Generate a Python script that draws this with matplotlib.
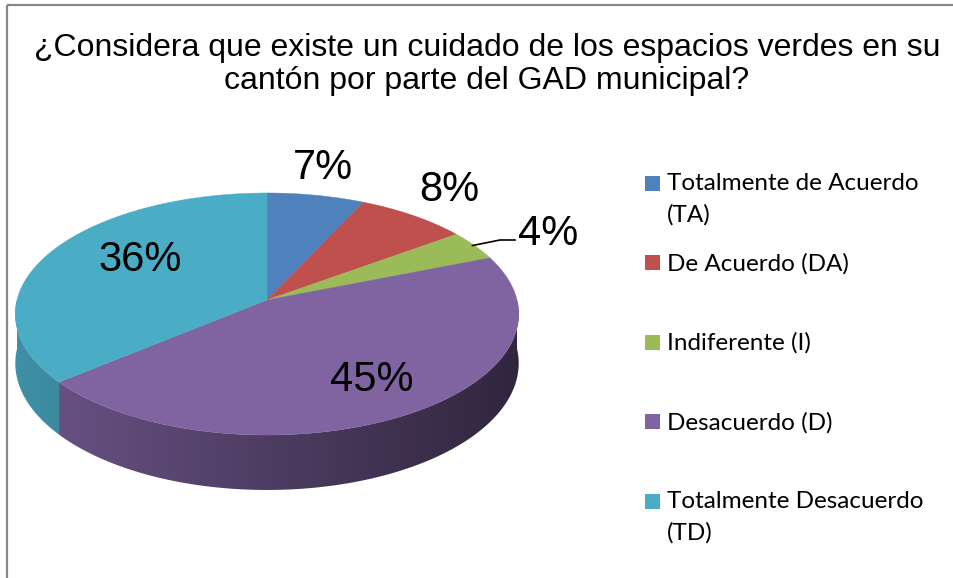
import numpy as np
import matplotlib.pyplot as plt
from matplotlib.colors import to_rgb
from matplotlib.patches import Polygon, Rectangle

# data
categories = ['Totalmente de Acuerdo\n(TA)', 'De Acuerdo (DA)', 'Indiferente (I)',
              'Desacuerdo (D)', 'Totalmente Desacuerdo\n(TD)']
values = [7, 8, 4, 45, 36]
colors = ['#4f81bd', '#c0504d', '#9bbb59', '#8064a2', '#4bacc6']
title_lines = ['¿Considera que existe un cuidado de los espacios verdes en su',
               'cantón por parte del GAD municipal?']

# pie geometry (pixel space)
cx, cy = 267, 300
A, B, k = 250, 119.4, 0.1157
H = 48.6


def proj(r, th):
    x = r * np.cos(th)
    y = r * np.sin(th)
    s = 1 / (1 + k * y)
    return cx + A * x * s, cy - B * y * s, s


fig = plt.figure(figsize=(9.54, 5.78), dpi=100)
ax = fig.add_axes([0, 0, 1, 1])
ax.set_xlim(0, 954)
ax.set_ylim(578, 0)
ax.axis('off')

ax.add_patch(Rectangle((7, 5), 980, 600, fill=False, edgecolor='#888888', lw=1.6))

fracs = np.array(values) / sum(values)
starts = np.pi / 2 - 2 * np.pi * np.concatenate([[0], np.cumsum(fracs)[:-1]])
ends = starts - 2 * np.pi * fracs

# horizontal shading ramp for the walls
xs_grad = np.linspace(0, 954, 955)
shade = np.clip(0.84 - 0.46 * (xs_grad - 15) / 502, 0.3, 1)

# side walls (front half only)
for st, en, c in zip(starts, ends, colors):
    lo, hi = max(en, -np.pi), min(st, 0)
    if lo >= hi:
        lo, hi = max(en + 2 * np.pi, -np.pi), min(st + 2 * np.pi, 0)
        if lo >= hi:
            continue
    ths = np.linspace(hi, lo, 120)
    tx, ty, ts = proj(1, ths)
    pts = list(zip(tx, ty)) + list(zip(tx[::-1], (ty + H * ts)[::-1]))
    wall = Polygon(pts, closed=True, facecolor='none', edgecolor='none')
    ax.add_patch(wall)
    img = np.clip(np.array(to_rgb(c))[None, None, :] * shade[None, :, None], 0, 1)
    im = ax.imshow(img, extent=(0, 954, 578, 0), aspect='auto', interpolation='bilinear')
    im.set_clip_path(wall)

# top surfaces
for st, en, c in zip(starts, ends, colors):
    ths = np.linspace(st, en, 200)
    xs, ys, _ = proj(1, ths)
    pts = [(cx, cy)] + list(zip(xs, ys))
    ax.add_patch(Polygon(pts, closed=True, facecolor=c, edgecolor=c, lw=0.3, zorder=3))

ax.set_xlim(0, 954)
ax.set_ylim(578, 0)

# data labels
label_pos = [(323, 168), (449, 190), (548, 234), (372, 380), (140, 260)]
for v, (lx, ly) in zip(values, label_pos):
    ax.text(lx, ly, f'{v}%', fontsize=30, family='Liberation Sans',
            ha='center', va='center', color='black', zorder=5)

# leader line for small slice
mid = (starts[2] + ends[2]) / 2
rx, ry, _ = proj(1, mid)
ax.plot([rx - 2, 500, 515], [ry, 240, 240], color='black', lw=1.2, zorder=5)

# title
for j, line in enumerate(title_lines):
    ax.text(487, 48 + 33 * j, line, fontsize=23, family='Liberation Sans',
            ha='center', va='center', zorder=5)

# legend
for i, (lab, c) in enumerate(zip(categories, colors)):
    yl = 183 + 79.6 * i
    ax.add_patch(Rectangle((645, yl - 7.5), 15, 15, facecolor=c, edgecolor='none', zorder=5))
    ax.text(667, yl - 10, lab, fontsize=17.5, family='Lato', ha='left',
            va='top', linespacing=1.55, zorder=5)

fig.savefig('out.png', dpi=100)
